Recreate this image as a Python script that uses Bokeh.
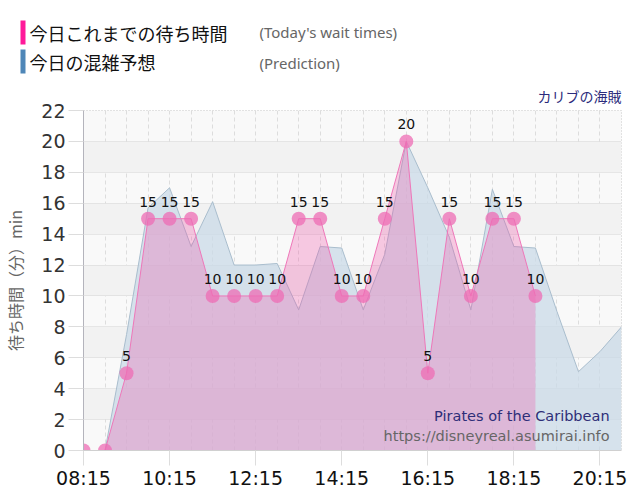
from bokeh.plotting import figure
from bokeh.models import Range1d, FixedTicker, Label
from bokeh.layouts import column
from bokeh.embed import file_html
from bokeh.resources import INLINE
from bokeh.core.properties import value

# ---- data ----
actual_times = ["08:15", "08:45", "09:15", "09:45", "10:15", "10:45", "11:15", "11:45",
                "12:15", "12:45", "13:15", "13:45", "14:15", "14:45", "15:15", "15:45",
                "16:15", "16:45", "17:15", "17:45", "18:15", "18:45"]
actual_waits = [0, 0, 5, 15, 15, 15, 10, 10, 10, 10, 15, 15, 10, 10, 15, 20, 5, 15, 10, 15, 15, 10]

pred_times = ["08:15", "08:45", "09:15", "09:45", "10:15", "10:45", "11:15", "11:45",
              "12:15", "12:45", "13:15", "13:45", "14:15", "14:45", "15:15", "15:45",
              "16:15", "16:45", "17:15", "17:45", "18:15", "18:45", "19:15", "19:45",
              "20:15", "20:45"]
pred_waits = [0, 0, 7.5, 15.7, 17.0, 13.2, 16.1, 12.0, 12.0, 12.1, 9.1, 13.2, 13.1, 9.1,
              12.7, 20.0, 17.0, 13.8, 9.1, 16.9, 13.2, 13.1, 9.0, 5.1, 6.4, 8.0]

x_tick_labels = ["08:15", "10:15", "12:15", "14:15", "16:15", "18:15", "20:15"]
y_ticks = [0, 2, 4, 6, 8, 10, 12, 14, 16, 18, 20, 22]

legend_titles = ["今日これまでの待ち時間", "今日の混雑予想"]
legend_subtitles = ["(Today's wait times)", "(Prediction)"]
attraction_jp = "カリブの海賊"
attraction_en = "Pirates of the Caribbean"
site_url = "https://disneyreal.asumirai.info"
y_label = "待ち時間（分）min"


def to_min(t):
    h, m = t.split(":")
    return int(h) * 60 + int(m)


ax = [to_min(t) for t in actual_times]
px_ = [to_min(t) for t in pred_times]
x_ticks = [to_min(t) for t in x_tick_labels]
X0, X1 = to_min("08:15"), to_min("20:45")
grid_x = list(range(X0, X1 + 1, 30))

JP = value("Noto Sans CJK JP")
LAT = value("DejaVu Sans")

# ---- header ----
h = figure(width=640, height=78, x_range=Range1d(0, 640), y_range=Range1d(78, 0),
           output_backend="svg", toolbar_location=None, min_border=0,
           x_axis_type=None, y_axis_type=None)
h.outline_line_color = None
h.grid.visible = False
h.quad(left=[20, 20], right=[25, 25], top=[20, 49], bottom=[44, 73],
       fill_color=["#ff1a9a", "#4f87b8"], line_color=None)
h.text(x=[29, 29], y=[32.5, 61.5], text=legend_titles, text_font=JP,
       text_font_size="18px", text_color="#111111", text_baseline="middle")
h.text(x=[259, 259], y=[31, 62], text=legend_subtitles, text_font=value("Noto Sans"),
       text_font_size="15px", text_color="#666666", text_baseline="middle")

# ---- main chart ----
p = figure(width=640, height=422, x_range=Range1d(X0, X1), y_range=Range1d(0, 22),
           output_backend="svg", toolbar_location=None,
           min_border_left=80, min_border_right=19, min_border_top=32, min_border_bottom=50)
p.background_fill_color = "#f9f9f9"
p.border_fill_color = "white"
p.outline_line_color = "#c8c8c8"
p.outline_line_dash = "1 2"

p.title.text = attraction_jp
p.title.align = "right"
p.title.text_font = "Noto Sans CJK JP"
p.title.text_font_size = "14px"
p.title.text_font_style = "normal"
p.title.text_color = "#2b2b7c"
p.title.standoff = 10

for f in (h, p):
    if "frame_align" in f.properties():
        f.frame_align = False

p.ygrid.ticker = FixedTicker(ticks=y_ticks)
p.ygrid.grid_line_color = "#d4d4d4"
p.ygrid.grid_line_dash = "1 1"
p.ygrid.band_fill_color = "#f2f2f2"
p.ygrid.band_fill_alpha = 1.0
p.xgrid.ticker = FixedTicker(ticks=grid_x)
p.xgrid.grid_line_color = "#dddddd"
p.xgrid.grid_line_dash = "4 3"

p.yaxis.ticker = FixedTicker(ticks=y_ticks)
p.yaxis.major_tick_out = 15
p.yaxis.major_tick_in = 0
p.yaxis.minor_tick_line_color = None
p.yaxis.major_tick_line_color = "#dddddd"
p.yaxis.axis_line_color = "#b4b4bc"
p.yaxis.major_label_text_font = "DejaVu Sans"
p.yaxis.major_label_text_font_size = "19px"
p.yaxis.major_label_text_color = "#333333"
p.yaxis.major_label_standoff = 3
p.yaxis.axis_label = y_label
p.yaxis.axis_label_text_font = "Noto Sans CJK JP"
p.yaxis.axis_label_text_font_size = "16px"
p.yaxis.axis_label_text_font_style = "normal"
p.yaxis.axis_label_text_color = "#666666"
p.yaxis.axis_label_standoff = 11

p.xaxis.ticker = FixedTicker(ticks=x_ticks)
p.xaxis.major_label_overrides = {v: s for v, s in zip(x_ticks, x_tick_labels)}
p.xaxis.major_tick_out = 15
p.xaxis.major_tick_in = 0
p.xaxis.minor_tick_line_color = None
p.xaxis.major_tick_line_color = "#dddddd"
p.xaxis.axis_line_color = "#d0d0d0"
p.xaxis.major_label_text_font = "DejaVu Sans"
p.xaxis.major_label_text_font_size = "19px"
p.xaxis.major_label_text_color = "#111111"
p.xaxis.major_label_standoff = 1

# prediction area
p.varea(x=px_, y1=[0] * len(px_), y2=pred_waits, fill_color="#c9dae7", fill_alpha=0.75)
p.line(px_, pred_waits, line_color="#a9bdcd", line_width=1)

# actual area
p.varea(x=ax, y1=[0] * len(ax), y2=actual_waits, fill_color="#ee55aa", fill_alpha=0.3)
p.line(ax, actual_waits, line_color="#ee77b9", line_width=1)
p.scatter(ax, actual_waits, size=14, fill_color="#ee6cb4", fill_alpha=0.75, line_color=None)

lx = [x for x, v in zip(ax, actual_waits) if v > 0]
ly = [v for v in actual_waits if v > 0]
p.text(x=lx, y=ly, text=[str(v) for v in ly], text_align="center", text_baseline="middle",
       y_offset=-17, text_font=LAT, text_font_size="14px", text_color="#111111")


def px2x(px):
    return X0 + (px - 80) * (X1 - X0) / 541


def px2y(py):
    return (450 - py) * 22 / 340


p.add_layout(Label(x=px2x(609), y=px2y(415), text=attraction_en, text_align="right",
                   text_baseline="middle", text_font="DejaVu Sans",
                   text_font_size="14.5px", text_color="#2e2e78"))
p.add_layout(Label(x=px2x(609), y=px2y(435), text=site_url, text_align="right",
                   text_baseline="middle", text_font="DejaVu Sans",
                   text_font_size="14.5px", text_color="#666666"))

layout = column(h, p, spacing=0)
open("out.html", "w").write(file_html(layout, INLINE))
